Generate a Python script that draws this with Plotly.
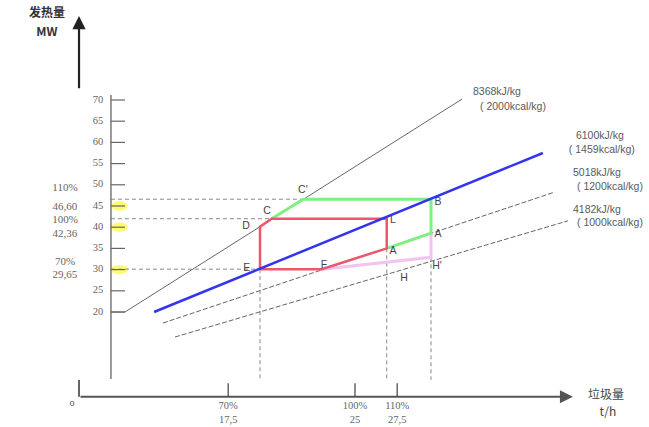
import plotly.graph_objects as go

# ---- data (x: waste throughput t/h, y: heat output MW; schematic) ----
y_ticks = [20, 25, 30, 35, 40, 45, 50, 55, 60, 65, 70]
x_ticks = [17.5, 25, 27.5]
x_tick_pct = ["70%", "100%", "110%"]
x_tick_val = ["17,5", "25", "27,5"]

line_top_x = [10.56, 11.39, 31.33]      # 8368 kJ/kg (2000 kcal/kg)
line_top_y = [20, 20, 70.2]
line_blue_x = [13.11, 36.12]            # 6100 kJ/kg (1459 kcal/kg)
line_blue_y = [20, 57.5]
line_5018_x = [13.64, 36.83]            # 5018 kJ/kg (1200 kcal/kg)
line_5018_y = [17.4, 48.3]
line_4182_x = [14.35, 37.60]            # 4182 kJ/kg (1000 kcal/kg)
line_4182_y = [14.1, 41.5]

red_x = [19.38, 19.38, 20.07, 26.88, 26.88, 23.03, 19.38]   # E D C L A F E
red_y = [30.1, 40.1, 42.0, 42.0, 35.0, 30.1, 30.1]
green_x = [20.07, 21.94, 29.5, 29.5, 26.88]                 # C C' B A' A
green_y = [42.0, 46.6, 46.6, 38.6, 35.0]
pink_x = [23.03, 29.5, 29.5]                                # F H'
pink_y = [30.1, 32.9, 38.6]

load_levels = [46.6, 42.0, 30.1]
load_ends = [21.94, 20.07, 19.38]
vert_x = [19.38, 26.88, 29.5]
vert_top = [30.1, 35.0, 32.9]

highlight_mw = [45, 40, 30]

pt_labels = ["C'", "C", "D", "E", "F", "L", "B", "A", "A", "H'", "H"]
pt_x = [21.92, 19.79, 18.55, 18.6, 23.16, 27.25, 29.91, 29.91, 27.25, 29.85, 27.9]
pt_y = [48.8, 43.8, 40.3, 30.4, 31.1, 41.5, 45.9, 38.2, 34.2, 30.8, 28.0]

left_labels = ["110%", "46,60", "100%", "42,36", "70%", "29,65"]
left_y = [49.2, 44.8, 41.7, 38.4, 31.8, 28.7]

right_labels = ["8368kJ/kg", "( 2000kcal/kg)", "6100kJ/kg", "( 1459kcal/kg)",
                "5018kJ/kg", "( 1200kcal/kg)", "4182kJ/kg", "( 1000kcal/kg)"]
right_x = [33.4, 34.35, 39.49, 39.61, 39.32, 40.09, 39.32, 40.09]
right_y = [71.9, 68.3, 61.5, 58.2, 52.8, 49.5, 44.0, 41.0]

AX_X = 10.56      # position of the scaled MW axis
ORIG_X = 8.67     # origin of the arrow axes
XAX_END = 37.9
YAX_BOT = 4.2
YAX_TOP = 71.2

FONT = "Liberation Sans"
GRAY = "#5a5a5a"

fig = go.Figure()

def seg(x, y, color, width, dash="solid", opacity=1.0):
    fig.add_trace(go.Scatter(x=x, y=y, mode="lines", opacity=opacity,
                             line=dict(color=color, width=width, dash=dash),
                             hoverinfo="skip", showlegend=False))

# yellow highlights on axis
for v in highlight_mw:
    fig.add_shape(type="circle", x0=AX_X, x1=AX_X + 1.0, y0=v - 1.1, y1=v + 1.1,
                  fillcolor="rgba(255,250,90,0.85)", line=dict(width=0), layer="below")

# dashed guide lines
for lv, le in zip(load_levels, load_ends):
    seg([AX_X, le], [lv, lv], "#888888", 1, "4px,3px")
for vx, vt in zip(vert_x, vert_top):
    seg([vx, vx], [vt, 4.0], "#888888", 1, "4px,3px")

# heating value lines
seg(line_top_x, line_top_y, "#666666", 1)
seg(line_5018_x, line_5018_y, "#666666", 1, "5px,2px")
seg(line_4182_x, line_4182_y, "#666666", 1, "5px,2px")

# operating envelope
seg(pink_x, pink_y, "#f4c2f2", 3)
seg(green_x, green_y, "#80ee80", 3)
seg(red_x, red_y, "#f0566a", 2.5)
seg(line_blue_x, line_blue_y, "#3434ee", 2.5)

# scaled MW axis
seg([AX_X, AX_X], [YAX_BOT, YAX_TOP], "#777777", 1.5)
for v in y_ticks:
    seg([AX_X, AX_X + 0.83], [v, v], "#666666", 1.2)
fig.add_trace(go.Scatter(x=[AX_X - 0.45] * len(y_ticks), y=y_ticks, mode="text",
                         text=[str(v) for v in y_ticks], textposition="middle left",
                         textfont=dict(family="Liberation Serif", size=10.5, color="#666666"),
                         hoverinfo="skip", showlegend=False))

# x axis with ticks
seg([ORIG_X, ORIG_X], [0, 4.0], "#666666", 2)
for xt in x_ticks:
    seg([xt, xt], [0, 3.2], "#666666", 1.5)
fig.add_annotation(x=XAX_END, y=0, ax=ORIG_X, ay=0, xref="x", yref="y", axref="x", ayref="y",
                   showarrow=True, arrowhead=2, arrowsize=1.3, arrowwidth=2, arrowcolor="#555555", text="")
fig.add_annotation(x=ORIG_X, y=89.8, ax=ORIG_X, ay=72.4, xref="x", yref="y", axref="x", ayref="y",
                   showarrow=True, arrowhead=2, arrowsize=1.2, arrowwidth=2.2, arrowcolor="#222222", text="")

fig.add_trace(go.Scatter(x=x_ticks, y=[-2.3] * 3, mode="text", text=x_tick_pct,
                         textfont=dict(family="Liberation Serif", size=10.5, color="#666666"),
                         hoverinfo="skip", showlegend=False))
fig.add_trace(go.Scatter(x=x_ticks, y=[-5.6] * 3, mode="text", text=x_tick_val,
                         textfont=dict(family="Liberation Serif", size=10.5, color="#666666"),
                         hoverinfo="skip", showlegend=False))

# left load labels
fig.add_trace(go.Scatter(x=[7.84] * len(left_labels), y=left_y, mode="text", text=left_labels,
                         textfont=dict(family="Liberation Serif", size=11, color="#666666"),
                         hoverinfo="skip", showlegend=False))

# right line labels
fig.add_trace(go.Scatter(x=right_x, y=right_y, mode="text", text=right_labels,
                         textfont=dict(family=FONT, size=10.5, color=GRAY),
                         hoverinfo="skip", showlegend=False))

# point labels
fig.add_trace(go.Scatter(x=pt_x, y=pt_y, mode="text", text=pt_labels,
                         textfont=dict(family=FONT, size=10.5, color="#444444"),
                         hoverinfo="skip", showlegend=False))

# axis titles and origin
fig.add_trace(go.Scatter(x=[6.77, 6.77], y=[90.3, 85.8], mode="text",
                         text=["<b>发热量</b>", "<b>MW</b>"],
                         textfont=dict(family="Noto Sans CJK SC", size=12, color="#333333"),
                         hoverinfo="skip", showlegend=False))
fig.add_trace(go.Scatter(x=[39.85, 39.97], y=[0.2, -3.8], mode="text",
                         text=["垃圾量", "t/h"],
                         textfont=dict(family="Noto Sans CJK SC", size=12, color="#444444"),
                         hoverinfo="skip", showlegend=False))
fig.add_trace(go.Scatter(x=[8.25], y=[-1.5], mode="text", text=["o"],
                         textfont=dict(family="Liberation Serif", size=10, color="#555555"),
                         hoverinfo="skip", showlegend=False))

fig.update_layout(
    width=649, height=427,
    margin=dict(l=0, r=0, t=0, b=0),
    paper_bgcolor="white", plot_bgcolor="white",
    showlegend=False,
    xaxis=dict(range=[3.994, 42.40], visible=False, fixedrange=True),
    yaxis=dict(range=[-7.12, 93.58], visible=False, fixedrange=True),
)

fig.write_html("out.html", config={"displayModeBar": False},
               post_script="document.body.style.margin='0';document.body.style.overflow='hidden';")
